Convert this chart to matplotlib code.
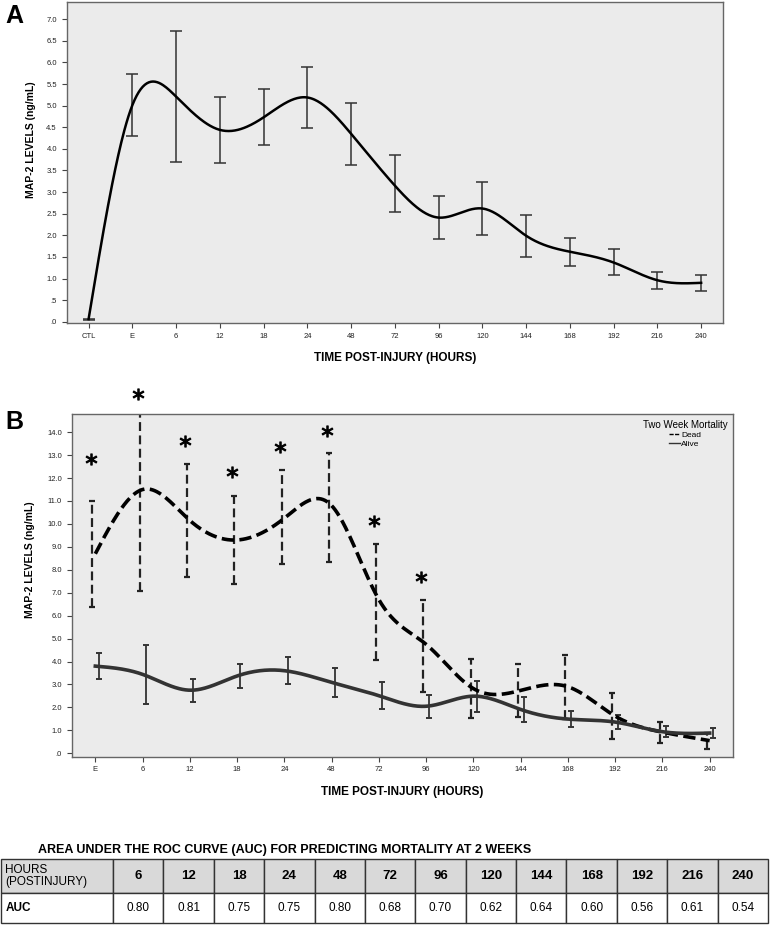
import numpy as np
import matplotlib
matplotlib.use("Agg")
import matplotlib.pyplot as plt
from matplotlib.lines import Line2D
from matplotlib.ticker import FuncFormatter, MultipleLocator

plt.rcParams['font.family'] = ['Liberation Sans', 'DejaVu Sans']

# panel A: all patients
labels_a = ["CTL", "E", "6", "12", "18", "24", "48", "72", "96", "120", "144", "168", "192", "216", "240"]
mean_a = [0.06, 5.01, 5.21, 4.44, 4.73, 5.19, 4.35, 3.15, 2.41, 2.62, 1.99, 1.62, 1.37, 0.96, 0.90]
lo_a = [0.05, 4.29, 3.70, 3.67, 4.09, 4.49, 3.63, 2.53, 1.91, 2.01, 1.50, 1.29, 1.07, 0.76, 0.72]
hi_a = [0.07, 5.73, 6.73, 5.21, 5.38, 5.90, 5.07, 3.85, 2.92, 3.23, 2.48, 1.94, 1.68, 1.16, 1.08]

# panel B: by two week mortality
labels_b = ["E", "6", "12", "18", "24", "48", "72", "96", "120", "144", "168", "192", "216", "240"]
dead_mean = [8.70, 11.50, 10.15, 9.30, 10.25, 10.80, 6.70, 4.75, 2.82, 2.74, 2.90, 1.62, 0.92, 0.55]
dead_lo = [6.39, 7.09, 7.67, 7.37, 8.24, 8.33, 4.07, 2.67, 1.54, 1.60, 1.50, 0.61, 0.46, 0.19]
dead_hi = [11.00, 15.90, 12.60, 11.22, 12.33, 13.08, 9.14, 6.67, 4.10, 3.91, 4.29, 2.62, 1.38, 0.87]
alive_mean = [3.80, 3.44, 2.75, 3.37, 3.60, 3.09, 2.51, 2.05, 2.49, 1.91, 1.49, 1.36, 0.94, 0.88]
alive_lo = [3.24, 2.15, 2.25, 2.83, 3.02, 2.44, 1.92, 1.55, 1.81, 1.38, 1.13, 1.05, 0.72, 0.65]
alive_hi = [4.36, 4.72, 3.24, 3.91, 4.19, 3.73, 3.11, 2.54, 3.17, 2.44, 1.84, 1.67, 1.19, 1.10]
star_idx = [0, 1, 2, 3, 4, 5, 6, 7]
star_y = [12.83, 15.65, 13.62, 12.28, 13.37, 14.06, 10.13, 7.70]

# AUC table
auc_hours = ["6", "12", "18", "24", "48", "72", "96", "120", "144", "168", "192", "216", "240"]
auc_vals = ["0.80", "0.81", "0.75", "0.75", "0.80", "0.68", "0.70", "0.62", "0.64", "0.60", "0.56", "0.61", "0.54"]


def natural_spline(x, y, xs):
    x = np.asarray(x, float)
    y = np.asarray(y, float)
    n = len(x)
    h = np.diff(x)
    A = np.zeros((n, n))
    b = np.zeros(n)
    A[0, 0] = 1
    A[-1, -1] = 1
    for i in range(1, n - 1):
        A[i, i - 1] = h[i - 1]
        A[i, i] = 2 * (h[i - 1] + h[i])
        A[i, i + 1] = h[i]
        b[i] = 3 * ((y[i + 1] - y[i]) / h[i] - (y[i] - y[i - 1]) / h[i - 1])
    c = np.linalg.solve(A, b)
    bb = (y[1:] - y[:-1]) / h - h * (2 * c[:-1] + c[1:]) / 3
    d = (c[1:] - c[:-1]) / (3 * h)
    k = np.clip(np.searchsorted(x, xs) - 1, 0, n - 2)
    t = xs - x[k]
    return y[k] + bb[k] * t + c[k] * t ** 2 + d[k] * t ** 3


def fmt(v, pos):
    s = f"{abs(round(v, 2)):.1f}"
    if s.startswith("0"):
        s = s[1:]
    return s


def style_axes(ax):
    ax.set_facecolor("#ebebeb")
    for sp in ax.spines.values():
        sp.set_color("#666666")
        sp.set_linewidth(1.0)
    ax.tick_params(direction="out", length=3.5, width=0.8, colors="#444444", labelsize=5.5, labelcolor="#222222")
    ax.yaxis.set_major_formatter(FuncFormatter(fmt))


W, H = 771, 926
fig = plt.figure(figsize=(W / 100, H / 100), dpi=100)

# ---- panel A
axa = fig.add_axes([66.7 / W, 1 - 323 / H, (723 - 66.7) / W, 321 / H])
style_axes(axa)
xa = np.arange(len(labels_a))
xs = np.linspace(0, len(labels_a) - 1, 600)
axa.plot(xs, natural_spline(xa, mean_a, xs), color="black", lw=1.8, zorder=3)
ma = np.array(mean_a)
axa.errorbar(xa, ma, yerr=[ma - np.array(lo_a), np.array(hi_a) - ma], fmt="none",
             ecolor="#333333", elinewidth=1.1, capsize=4.5, capthick=1.1, zorder=2)
axa.set_xlim(-0.5, len(labels_a) - 0.5)
axa.set_ylim(-0.03, 7.40)
axa.yaxis.set_major_locator(MultipleLocator(0.5))
axa.set_xticks(xa, labels_a)
axa.set_xlabel("TIME POST-INJURY (HOURS)", fontsize=8.5, fontweight="bold", labelpad=9)
axa.set_ylabel("MAP-2 LEVELS (ng/mL)", fontsize=7.5, fontweight="bold")
axa.yaxis.set_label_coords(-0.047, 0.57)
fig.text(14 / W, 1 - 16 / H, "A", fontsize=18, fontweight="bold", ha="center", va="center")

# ---- panel B
axb = fig.add_axes([71.7 / W, 1 - 756.7 / H, (733.3 - 71.7) / W, (756.7 - 414.3) / H])
style_axes(axb)
xb = np.arange(len(labels_b))
xs = np.linspace(0, len(labels_b) - 1, 600)
axb.plot(xs, natural_spline(xb, dead_mean, xs), color="black", lw=2.6, ls=(0, (3.4, 1.5)), zorder=3)
axb.plot(xs, natural_spline(xb, alive_mean, xs), color="#333333", lw=2.6, zorder=3)

dm = np.array(dead_mean)
eb = axb.errorbar(xb - 0.06, dm, yerr=[dm - np.array(dead_lo), np.array(dead_hi) - dm], fmt="none",
                  ecolor="#222222", elinewidth=1.6, capsize=2.2, capthick=1.6, zorder=2)
eb[2][0].set_linestyle((0, (4, 2)))
am = np.array(alive_mean)
axb.errorbar(xb + 0.07, am, yerr=[am - np.array(alive_lo), np.array(alive_hi) - am], fmt="none",
             ecolor="#333333", elinewidth=1.3, capsize=2.2, capthick=1.4, zorder=2)

axb.plot(xb[star_idx] - 0.1, star_y, ls="none", marker="$*$", ms=8, color="black",
         mew=0.8, clip_on=False, zorder=4)

axb.set_xlim(-0.5, len(labels_b) - 0.5)
axb.set_ylim(-0.15, 14.78)
axb.yaxis.set_major_locator(MultipleLocator(1.0))
axb.set_xticks(xb, labels_b)
axb.set_xlabel("TIME POST-INJURY (HOURS)", fontsize=8.5, fontweight="bold", labelpad=9)
axb.set_ylabel("MAP-2 LEVELS (ng/mL)", fontsize=7.5, fontweight="bold")
axb.yaxis.set_label_coords(-0.055, 0.574)
fig.text(14 / W, 1 - 422 / H, "B", fontsize=18, fontweight="bold", ha="center", va="center")

handles = [Line2D([], [], color="black", lw=1.0, ls=(0, (3, 1))),
           Line2D([], [], color="#333333", lw=1.0)]
leg = axb.legend(handles, ["Dead", "Alive"], title="Two Week Mortality", loc="upper right",
                 frameon=False, fontsize=6, title_fontsize=7, handlelength=1.3,
                 handletextpad=0.2, labelspacing=0.15, borderaxespad=0.3)

# ---- AUC table
fig.text(38 / W, 1 - 850 / H, "AREA UNDER THE ROC CURVE (AUC) FOR PREDICTING MORTALITY AT 2 WEEKS",
         fontsize=9, fontweight="bold", ha="left", va="center")
axt = fig.add_axes([1 / W, 1 - 923 / H, 767 / W, 64 / H])
axt.axis("off")
rows = [["HOURS\n(POSTINJURY)"] + auc_hours, ["AUC"] + auc_vals]
colours = [["#d9d9d9"] * len(rows[0]), ["white"] * len(rows[0])]
widths = [112] + [50.4] * len(auc_hours)
tbl = axt.table(cellText=rows, cellColours=colours, colWidths=widths, cellLoc="center", bbox=[0, 0, 1, 1])
tbl.auto_set_font_size(False)
for (r, c), cell in tbl.get_celld().items():
    cell.set_edgecolor("#333333")
    cell.set_linewidth(1.0)
    cell.set_height(33.7 if r == 0 else 30.3)
    txt = cell.get_text()
    if c == 0:
        cell._loc = "left"
        txt.set_ha("left")
        cell.PAD = 0.04
        txt.set_fontsize(8.5)
        txt.set_fontweight("normal" if r == 0 else "bold")
        txt.set_linespacing(1.0)
    else:
        txt.set_fontsize(9.5 if r == 0 else 8.5)
        txt.set_fontweight("bold" if r == 0 else "normal")

fig.savefig("out.png", dpi=100)
